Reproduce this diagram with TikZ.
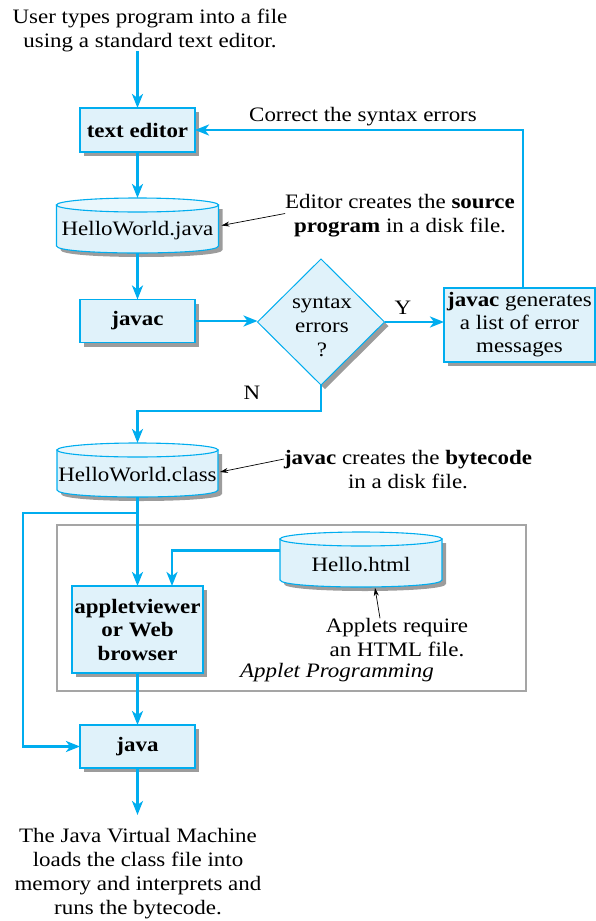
\documentclass[tikz,border=0pt]{standalone}
\usepackage{fontspec}
\setmainfont{Liberation Serif}[FakeStretch=1.12]
\usetikzlibrary{arrows.meta,shapes.geometric,shadows,calc}
\definecolor{jblue}{HTML}{00ADEF}
\definecolor{jfill}{HTML}{E0F2FA}
\definecolor{jtop}{HTML}{EAF7FC}
\definecolor{jshadow}{HTML}{9C9C9C}
\definecolor{appgray}{HTML}{A5A5A5}
\newcommand{\jcyl}[6]{%
 \node[minimum width=#4pt, minimum height=#5pt] (#1) at (#2,#3) {};
 \fill[jshadow] ($(#1.north west)+(4,11)$) -- ($(#1.south west)+(4,-3)$) .. controls +(0,9.33) and +(0,9.33) .. ($(#1.south east)+(4,-3)$) -- ($(#1.north east)+(4,11)$) -- cycle;
 \filldraw[draw=jblue, fill=jfill, line width=1.1pt] ($(#1.north west)+(0,7)$) -- ($(#1.south west)+(0,-7)$) .. controls +(0,9.33) and +(0,9.33) .. ($(#1.south east)+(0,-7)$) -- ($(#1.north east)+(0,7)$) -- cycle;
 \filldraw[draw=jblue, fill=jtop, line width=1.1pt] ($(#1.north)+(0,7)$) ellipse [x radius=#4pt/2, y radius=7pt];
 \node (#1-t) at ($(#1.center)+(0,5)$) {#6};
}
\begin{document}
\begin{tikzpicture}[x=1pt,y=-1pt,
  every node/.style={font=\fontsize{20.5}{24}\selectfont, inner sep=0pt, outer sep=0pt},
  txt/.style={align=center},
  boxst/.style={draw=jblue, fill=jfill, line width=1.2pt, align=center,
    font=\fontsize{20.5}{23.5}\selectfont\bfseries,
    drop shadow={shadow xshift=4pt, shadow yshift=-4pt, fill=jshadow, opacity=1}},
  flow/.style={draw=jblue, line width=2.6pt, -{Stealth[length=14pt,width=11pt,inset=4pt]}},
  note/.style={draw=black, line width=0.7pt, -{Stealth[length=8pt,width=5pt]}}
]
\useasboundingbox (0,0) rectangle (595,921);

% Applet programming frame
\node[draw=appgray, line width=2pt, minimum width=469pt, minimum height=166pt] (apbox) at (291.5,608) {};

% nodes
\node[txt] (intro) at (150,30) {User types program into a file\\using a standard text editor.};
\node[boxst, minimum width=115pt, minimum height=44pt] (te) at (137.5,130) {text editor};
\jcyl{hj}{137.5}{225.5}{162}{55}{HelloWorld.java}
\node[boxst, minimum width=115pt, minimum height=43pt] (jc) at (137.5,321) {javac};
\node[diamond, draw=jblue, fill=jfill, line width=1pt, minimum width=127pt, minimum height=126pt,
  drop shadow={shadow xshift=4pt, shadow yshift=-4pt, fill=jshadow, opacity=1}] (se) at (321,322) {};
\node[txt] (setxt) at (322,327) {syntax\\errors\\?};
\node[boxst, font=\fontsize{20.5}{23}\selectfont, minimum width=151pt, minimum height=74pt] (jg) at (519.5,325) {\textbf{javac} generates\\a list of error\\messages};
\jcyl{hc}{137.5}{470}{161}{54}{HelloWorld.class}
\jcyl{hh}{361}{559.5}{162}{55}{Hello.html}
\node[boxst, minimum width=131pt, minimum height=87pt] (av) at (137.5,629.5) {appletviewer\\or Web\\browser};
\node[boxst, minimum width=115pt, minimum height=43pt] (jv) at (137.5,746.5) {java};
\node[txt] (jvm) at (138,873.5) {The Java Virtual Machine\\loads the class file into\\memory and interprets and\\runs the bytecode.};
\coordinate (endp) at (137.5,815);

% labels
\node (corr) at (363,117) {Correct the syntax errors};
\node[txt] (srcnote) at (400,215.5) {Editor creates the \textbf{source}\\\textbf{program} in a disk file.};
\node (ylab) at (403,308) {Y};
\node (nlab) at (252,393) {N};
\node[txt] (bcnote) at (408,470) {\textbf{javac} creates the \textbf{bytecode}\\in a disk file.};
\node[txt] (htmlnote) at (397,637.5) {Applets require\\an HTML file.};
\node (aplab) at (337,673) {\itshape Applet Programming};

% connectors
\draw[flow] (intro.south -| te.north) -- (te.north);
\draw[flow] (te.south) -- (hj.north);
\draw[flow] (hj.south) -- (jc.north);
\draw[flow] (jc.east) -- (jc.east -| se.west);
\draw[flow] (se.east) -- (se.east -| jg.west);
\draw[flow] ([xshift=3.5pt]jg.north) |- (te.east);
\draw[flow] (se.south) -- ++(0,26) -| (hc.north);
\draw[flow] (hc.south) -- (av.north);
\draw[flow] ($(hc.south)+(0,16)$) -| ($(jv.west)+(-57,0)$) -- (jv.west);
\draw[flow] ([yshift=9pt]hh.west) -| ([xshift=34.5pt]av.north);
\draw[flow] (av.south) -- (jv.north);
\draw[flow] (jv.south) -- (endp);

% annotation arrows
\draw[note] ([yshift=2pt]srcnote.west) -- ([xshift=3pt]hj.east);
\draw[note] ([yshift=11pt]bcnote.west) -- ([xshift=2pt,yshift=-2pt]hc.east);
\draw[note] ([xshift=-17pt]htmlnote.north) -- ([xshift=14pt,yshift=-1pt]hh.south);
\end{tikzpicture}
\end{document}
